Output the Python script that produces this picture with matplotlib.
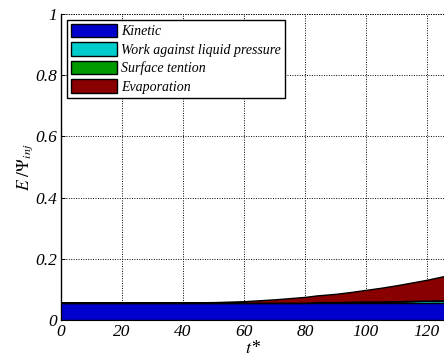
import matplotlib
matplotlib.use("Agg")
import matplotlib.pyplot as plt
import numpy as np

t = [0, 10, 20, 30, 36, 40, 50, 60, 70, 80, 84, 90, 95, 100, 105, 110, 115, 120, 126]
kinetic = [0.056]*19
work = [0, 0, 0, 0, 0, 0, 0, 0, 0, 0, 0.002, 0.002, 0.003, 0.004, 0.004, 0.005, 0.006, 0.007, 0.008]
surface = [0.0005]*19
evap = [0, 0, 0, 0, 0, 0.001, 0.002, 0.005, 0.011, 0.019, 0.022, 0.027, 0.032, 0.038, 0.045, 0.052, 0.060, 0.068, 0.080]
labels = ['Kinetic', 'Work against liquid pressure', 'Surface tention', 'Evaporation']
colors = ['#0000CC', '#00CCCC', '#009900', '#880000']
xticks = [0, 20, 40, 60, 80, 100, 120]
yticks = [0, 0.2, 0.4, 0.6, 0.8, 1]
yticklabels = ['0', '0.2', '0.4', '0.6', '0.8', '1']
xticklabels = ['0', '20', '40', '60', '80', '100', '120']

plt.rcParams['font.family'] = ['Liberation Serif', 'DejaVu Serif']
plt.rcParams['mathtext.fontset'] = 'stix'

fig = plt.figure(figsize=(4.44, 3.56), dpi=100)
ax = fig.add_axes([0.1374, 0.1011, 0.8626, 0.8596])
polys = ax.stackplot(t, kinetic, work, surface, evap, colors=colors, labels=labels,
                     edgecolor='black', linewidth=1.0, zorder=3)
ax.set_xlim(0, 125.6)
ax.set_ylim(0, 1)
ax.set_xticks(xticks)
ax.set_xticklabels(xticklabels, style='italic', fontsize=12.5)
ax.set_yticks(yticks)
ax.set_yticklabels(yticklabels, style='italic', fontsize=12.5)
ax.tick_params(direction='in', length=3, width=0.7, pad=3)
ax.grid(True, color='black', linestyle=(0, (1, 1.5)), linewidth=0.7, zorder=1)
ax.set_axisbelow(True)
ax.spines['top'].set_visible(False)
ax.spines['right'].set_visible(False)
ax.spines['left'].set_linewidth(1.0)
ax.axhline(1, color='black', linestyle=(0, (1, 1.5)), linewidth=0.7, clip_on=False)
ax.set_xlabel('$t$*', fontsize=13, style='italic', labelpad=0)
ax.set_ylabel(r'$E\ /\Psi_{inj}$', fontsize=12.5, labelpad=0)
leg = ax.legend(loc='upper left', prop={'style': 'italic', 'size': 10},
                fancybox=False, framealpha=1, edgecolor='black', handlelength=3.3,
                handleheight=1.1, labelspacing=0.3, borderpad=0.3, handletextpad=0.3,
                borderaxespad=0.4)
leg.get_frame().set_linewidth(1.0)
fig.savefig('out.png', dpi=100)
